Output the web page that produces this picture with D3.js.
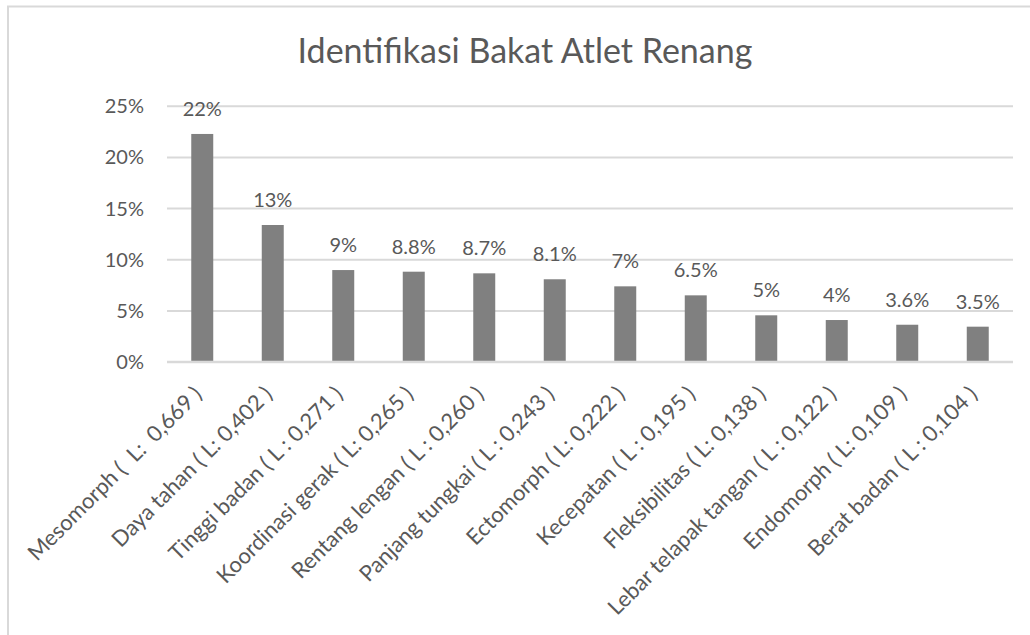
<!DOCTYPE html>
<html>
<head>
<meta charset="utf-8">
<script src="https://cdn.jsdelivr.net/npm/d3@7"></script>
<style>
  html, body { margin: 0; padding: 0; background: #fff; }
  svg { display: block; }
  text { font-family: Lato, "Open Sans", "Noto Sans", sans-serif; fill: #595959; white-space: pre; }
</style>
</head>
<body>
<svg id="chart" width="1030" height="635"></svg>
<script>
const title = "Identifikasi Bakat Atlet Renang";
const categories = [
  "Mesomorph (  L:  0,669 )",
  "Daya tahan ( L: 0,402 )",
  "Tinggi badan ( L : 0,271 )",
  "Koordinasi gerak ( L: 0,265 )",
  "Rentang lengan ( L : 0,260 )",
  "Panjang tungkai ( L : 0,243 )",
  "Ectomorph ( L: 0,222 )",
  "Kecepatan ( L : 0,195 )",
  "Fleksibilitas ( L: 0,138 )",
  "Lebar telapak tangan ( L : 0,122 )",
  "Endomorph ( L: 0,109 )",
  "Berat badan ( L : 0,104 )"
];
const values = [0.2224, 0.1335, 0.0895, 0.0879, 0.0863, 0.0805, 0.0736, 0.0648, 0.0453, 0.0407, 0.0361, 0.0342];
const valueLabels = ["22%", "13%", "9%", "8.8%", "8.7%", "8.1%", "7%", "6.5%", "5%", "4%", "3.6%", "3.5%"];
const yTicks = [0, 0.05, 0.10, 0.15, 0.20, 0.25];
const yTickLabels = ["0%", "5%", "10%", "15%", "20%", "25%"];

(function () {
const svg = d3.select("#chart");

svg.append("rect")
  .attr("x", 8).attr("y", 6.5)
  .attr("width", 1040).attr("height", 650)
  .attr("fill", "#fff")
  .attr("stroke", "#d9d9d9").attr("stroke-width", 2);

const pLeft = 167, pRight = 1013, pTop = 105.7, pBottom = 361.7;

const x = d3.scaleBand()
  .domain(categories)
  .range([pLeft, pRight])
  .paddingInner(0.688)
  .paddingOuter(0.344);

const y = d3.scaleLinear().domain([0, 0.25]).range([pBottom, pTop]);

svg.append("text")
  .attr("x", 525).attr("y", 63)
  .attr("text-anchor", "middle")
  .style("font-size", "34px")
  .style("font-weight", "400")
  .text(title);

const yAxis = d3.axisLeft(y).tickValues(yTicks)
  .tickSize(-(pRight - pLeft))
  .tickFormat((d, i) => yTickLabels[i]);

const gY = svg.append("g").attr("transform", `translate(${pLeft},0)`).call(yAxis);
gY.select(".domain").remove();
gY.selectAll(".tick line").attr("stroke", "#d9d9d9").attr("stroke-width", 2);
gY.selectAll(".tick text")
  .attr("x", -23)
  .attr("dy", "0.35em")
  .style("font-size", "20px")
  .attr("fill", "#595959");

svg.append("g").selectAll("rect")
  .data(values)
  .join("rect")
  .attr("x", (d, i) => x(categories[i]))
  .attr("width", x.bandwidth())
  .attr("y", d => y(d))
  .attr("height", d => y(0) - y(d))
  .attr("fill", "#808080");

svg.append("line")
  .attr("x1", pLeft).attr("x2", pRight)
  .attr("y1", y(0)).attr("y2", y(0))
  .attr("stroke", "#d9d9d9").attr("stroke-width", 2);

svg.append("g").selectAll("text")
  .data(values)
  .join("text")
  .attr("x", (d, i) => x(categories[i]) + x.bandwidth() / 2)
  .attr("y", d => y(d) - 18)
  .attr("text-anchor", "middle")
  .style("font-size", "20px")
  .text((d, i) => valueLabels[i]);

const xAxis = d3.axisBottom(x).tickSize(0).tickPadding(0);
const gX = svg.append("g").attr("transform", `translate(0,${pBottom})`).call(xAxis);
gX.select(".domain").remove();
gX.selectAll(".tick text")
  .attr("text-anchor", "end")
  .attr("dy", null)
  .attr("y", 0)
  .attr("transform", "translate(1,34) rotate(-45)")
  .style("font-size", "22px")
  .attr("fill", "#595959");
})();
</script>
</body>
</html>
